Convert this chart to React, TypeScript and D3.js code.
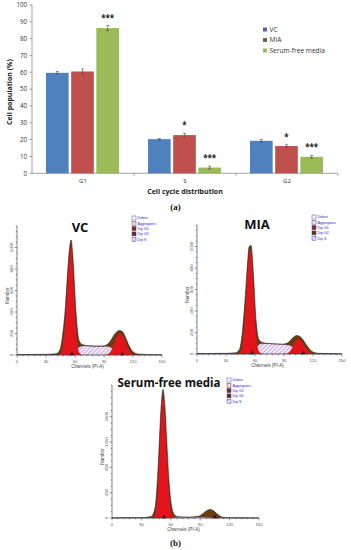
import * as d3 from 'd3';
import React from 'react';

// ---- panel (a): bar chart data ----
const phases = ['G1', 'S', 'G2'];
const groups = ['VC', 'MIA', 'Serum-free media'];
const vcMeans = [59.7, 20.3, 19.3];
const miaMeans = [60.5, 22.7, 16.2];
const sfmMeans = [86.3, 3.4, 9.8];
const vcErr = [0.8, 0.4, 0.8];
const miaErr = [1.5, 1.0, 0.8];
const sfmErr = [1.5, 0.8, 0.8];
const vcStars = ['', '', ''];
const miaStars = ['', '*', '*'];
const sfmStars = ['***', '***', '***'];
const barTicks = [0, 10, 20, 30, 40, 50, 60, 70, 80, 90, 100];

// ---- panel (b): DNA histograms (counts) ----
const channels = [0, 30, 40, 44, 47, 50, 52, 54, 56, 58, 61, 64, 67, 72, 80, 88, 93, 97, 100, 103, 106, 109, 112, 116, 120, 126, 150];

const vcTotal = [4, 6, 12, 40, 170, 440, 720, 960, 1070, 880, 400, 140, 100, 88, 84, 84, 95, 135, 180, 215, 228, 218, 170, 85, 30, 8, 2];
const vcG1 = [0, 0, 0, 5, 70, 320, 620, 900, 1020, 800, 260, 30, 2, 0, 0, 0, 0, 0, 0, 0, 0, 0, 0, 0, 0, 0, 0];
const vcG2 = [0, 0, 0, 0, 0, 0, 0, 0, 0, 0, 0, 0, 0, 0, 0, 0, 5, 35, 95, 160, 195, 185, 125, 40, 6, 0, 0];
const vcS = [0, 0, 0, 0, 0, 0, 0, 0, 0, 8, 45, 70, 82, 84, 80, 80, 78, 70, 58, 42, 28, 16, 8, 3, 0, 0, 0];

const miaTotal = [4, 6, 12, 45, 210, 540, 810, 1000, 1010, 790, 320, 135, 110, 100, 95, 92, 100, 130, 158, 172, 165, 140, 100, 50, 18, 6, 2];
const miaG1 = [0, 0, 0, 5, 90, 400, 720, 940, 960, 700, 200, 25, 2, 0, 0, 0, 0, 0, 0, 0, 0, 0, 0, 0, 0, 0, 0];
const miaG2 = [0, 0, 0, 0, 0, 0, 0, 0, 0, 0, 0, 0, 0, 0, 0, 0, 4, 35, 85, 128, 135, 105, 60, 18, 3, 0, 0];
const miaS = [0, 0, 0, 0, 0, 0, 0, 0, 0, 10, 55, 85, 95, 95, 90, 88, 84, 75, 60, 45, 28, 14, 7, 2, 0, 0, 0];

const sfmTotal = [3, 5, 25, 170, 780, 1720, 2030, 1760, 1170, 620, 170, 45, 22, 15, 15, 27, 72, 120, 134, 120, 82, 42, 16, 6, 3, 2, 1];
const sfmG1 = [0, 0, 0, 40, 560, 1560, 1940, 1650, 1020, 430, 50, 4, 0, 0, 0, 0, 0, 0, 0, 0, 0, 0, 0, 0, 0, 0, 0];
const sfmG2 = [0, 0, 0, 0, 0, 0, 0, 0, 0, 0, 0, 0, 0, 0, 0, 10, 55, 105, 120, 108, 70, 32, 10, 2, 0, 0, 0];
const sfmS = [0, 0, 0, 0, 0, 0, 0, 0, 0, 0, 5, 10, 12, 12, 12, 12, 10, 8, 5, 3, 0, 0, 0, 0, 0, 0, 0];

const legendItems = ['Debris', 'Aggregates', 'Dip G1', 'Dip G2', 'Dip S'];
const xTicksHist = [0, 30, 60, 90, 120, 150];

const barColors = ['#4f81bd', '#c0504d', '#9bbb59'];
const swatchColors = ['#5b63b0', '#7a5e48', '#9bbb59'];

const BarPanel = () => {
  const x0 = d3.scaleBand().domain(phases).range([32, 338]);
  const x1 = d3.scaleBand().domain(groups).range([0, 73]).paddingInner(0.1);
  const y = d3.scaleLinear().domain([0, 100]).range([173.3, 5]);
  const means = [vcMeans, miaMeans, sfmMeans];
  const errs = [vcErr, miaErr, sfmErr];
  const stars = [vcStars, miaStars, sfmStars];

  return (
    <g fontFamily="'Open Sans', sans-serif">
      {/* y axis */}
      <line x1={32} x2={32} y1={y(0)} y2={y(100)} stroke="#8a8a8a" strokeWidth={0.8} />
      <line x1={32} x2={338} y1={y(0)} y2={y(0)} stroke="#8a8a8a" strokeWidth={0.8} />
      {barTicks.map(t => (
        <g key={t}>
          <line x1={29.5} x2={32} y1={y(t)} y2={y(t)} stroke="#8a8a8a" strokeWidth={0.8} />
          <text x={27} y={y(t) + 2.2} fontSize={6.2} textAnchor="end" fill="#333">{t}</text>
        </g>
      ))}
      {phases.map(p => (
        <g key={p}>
          <line x1={x0(p)! + x0.bandwidth()} x2={x0(p)! + x0.bandwidth()} y1={y(0)} y2={y(0) + 2.5} stroke="#8a8a8a" strokeWidth={0.8} />
          <text x={x0(p)! + x0.bandwidth() / 2} y={y(0) + 9.5} fontSize={6} textAnchor="middle" fill="#333">{p}</text>
        </g>
      ))}
      {phases.map((p, i) => {
        const left = x0(p)! + (x0.bandwidth() - 73) / 2 - 0.5;
        return groups.map((g, k) => {
          const v = means[k][i];
          const e = errs[k][i];
          const bx = left + x1(g)!;
          const cx = bx + x1.bandwidth() / 2;
          return (
            <g key={p + g}>
              <rect x={bx} y={y(v)} width={x1.bandwidth()} height={y(0) - y(v)} fill={barColors[k]} />
              <line x1={cx} x2={cx} y1={y(v + e)} y2={y(v - e)} stroke="#444" strokeWidth={0.6} />
              <line x1={cx - 1.5} x2={cx + 1.5} y1={y(v + e)} y2={y(v + e)} stroke="#444" strokeWidth={0.6} />
              <line x1={cx - 1.5} x2={cx + 1.5} y1={y(v - e)} y2={y(v - e)} stroke="#444" strokeWidth={0.6} />
              {stars[k][i] && (
                <text x={cx} y={y(v + e) - 5} fontSize={8} fontWeight="bold" textAnchor="middle" fill="#222">{stars[k][i]}</text>
              )}
            </g>
          );
        });
      })}
      {/* axis titles */}
      <text transform={`translate(12,${y(50) + 3}) rotate(-90)`} fontSize={7} fontWeight="bold" textAnchor="middle" fill="#222">Cell population (%)</text>
      <text x={185} y={194} fontSize={7} fontWeight="bold" textAnchor="middle" fill="#222">Cell cycle distribution</text>
      {/* legend */}
      {groups.map((g, k) => (
        <g key={g}>
          <rect x={263} y={27.5 + k * 10.5} width={4} height={4} fill={swatchColors[k]} />
          <text x={269.5} y={31.8 + k * 10.5} fontSize={6.6} fill="#333">{g}</text>
        </g>
      ))}
    </g>
  );
};

type HistProps = {
  title: string; titleSize: number; titleX: number; titleY: number;
  xl: number; xr: number; yb: number; yt: number; ymax: number;
  yTicks: number[]; total: number[]; g1: number[]; g2: number[]; s: number[];
  g2Red: boolean; m1: number; m2: number; legX: number; legY: number;
};

const Histogram = (p: HistProps) => {
  const x = d3.scaleLinear().domain([0, 150]).range([p.xl, p.xr]);
  const y = d3.scaleLinear().domain([0, p.ymax]).range([p.yb, p.yt]);
  const pts = (arr: number[]) => channels.map((c, i) => [c, arr[i]] as [number, number]);
  const area = d3.area<[number, number]>().x(d => x(d[0])).y0(p.yb).y1(d => y(d[1])).curve(d3.curveMonotoneX);
  const line = d3.line<[number, number]>().x(d => x(d[0])).y(d => y(d[1])).curve(d3.curveMonotoneX);
  const minorX = d3.range(0, 151, 6);
  const minorY = d3.range(0, p.ymax + 1, p.yTicks[1] / 4);
  const brown = '#6e3b10';
  return (
    <g fontFamily="Arial, 'Liberation Sans', sans-serif">
      <path d={area(pts(p.total))!} fill={brown} />
      <path d={area(pts(p.s))!} fill={`url(#hatch)`} stroke="#7070c0" strokeWidth={0.3} />
      <path d={area(pts(p.g1))!} fill="#e3141b" />
      {p.g2Red && <path d={area(pts(p.g2))!} fill="#e3141b" />}
      <path d={line(pts(p.total))!} fill="none" stroke="#222" strokeWidth={0.6} />
      {/* axes */}
      <line x1={p.xl} x2={p.xl} y1={p.yb} y2={p.yt} stroke="#333" strokeWidth={0.6} />
      <line x1={p.xl} x2={p.xr} y1={p.yb} y2={p.yb} stroke="#333" strokeWidth={0.6} />
      {minorX.map(t => (
        <line key={'mx' + t} x1={x(t)} x2={x(t)} y1={p.yb} y2={p.yb + (t % 30 === 0 ? 2.5 : 1.3)} stroke="#333" strokeWidth={0.5} />
      ))}
      {minorY.map(t => (
        <line key={'my' + t} x1={p.xl} x2={p.xl - (p.yTicks.includes(t) ? 2.5 : 1.3)} y1={y(t)} y2={y(t)} stroke="#333" strokeWidth={0.5} />
      ))}
      {xTicksHist.map(t => (
        <text key={'tx' + t} x={x(t)} y={p.yb + 7.5} fontSize={4.2} textAnchor="middle" fill="#555">{t}</text>
      ))}
      {p.yTicks.map(t => (
        <text key={'ty' + t} transform={`translate(${p.xl - 4},${y(t)}) rotate(-90)`} fontSize={4.2} textAnchor="middle" fill="#555">{t}</text>
      ))}
      <text x={(p.xl + p.xr) / 2 - 2} y={p.yb + 12.5} fontSize={4.6} textAnchor="middle" fill="#444">Channels (PI-A)</text>
      <text transform={`translate(${p.xl - 8.5},${(p.yb + p.yt) / 2 + 5}) rotate(-90)`} fontSize={4.6} textAnchor="middle" fill="#444">Number</text>
      {/* mean markers */}
      {[p.m1, p.m2].map((m, i) => (
        <path key={'m' + i} d={`M${x(m) - 2},${p.yb + 0.2} L${x(m) + 2},${p.yb + 0.2} L${x(m)},${p.yb - 3.5} Z`} fill="#3a0a14" />
      ))}
      {/* title */}
      <text x={p.titleX} y={p.titleY} fontSize={p.titleSize} fontWeight="bold" textAnchor="middle" fill="#111" fontFamily="'Open Sans', sans-serif">{p.title}</text>
      {/* legend */}
      {legendItems.map((l, i) => {
        const ly = p.legY + i * 5.3;
        const fills = ['#ffffff', '#f6d6c6', '#8a2a10', '#5e3410', `url(#hatch)`];
        return (
          <g key={l}>
            <rect x={p.legX} y={ly} width={4} height={4} fill={fills[i]} stroke="#4a4aa8" strokeWidth={0.5} />
            <text x={p.legX + 5.5} y={ly + 3.4} fontSize={3.6} fill="#2a2ad0">{l}</text>
          </g>
        );
      })}
    </g>
  );
};

const App = () => {
  return (
    <svg width={351} height={550} style={{ position: 'absolute', left: 0, top: 0, background: '#fff' }}>
      <defs>
        <pattern id="hatch" width="3" height="3" patternUnits="userSpaceOnUse" patternTransform="rotate(45)">
          <rect width="3" height="3" fill="#fbeaf6" />
          <line x1="0" y1="0" x2="0" y2="3" stroke="#6a6ac8" strokeWidth="0.9" />
        </pattern>
      </defs>
      <rect width={351} height={550} fill="#fff" />
      <BarPanel />
      <text x={175.5} y={210} fontSize={9} fontWeight="bold" textAnchor="middle" fontFamily="'Liberation Serif', serif" fill="#111">(a)</text>
      <Histogram title="VC" titleSize={13} titleX={80} titleY={232}
        xl={17} xr={162} yb={355} yt={226} ymax={1200} yTicks={[0, 200, 400, 600, 800, 1000]}
        total={vcTotal} g1={vcG1} g2={vcG2} s={vcS} g2Red={true} m1={57} m2={109}
        legX={132} legY={216} />
      <Histogram title="MIA" titleSize={13} titleX={257} titleY={229}
        xl={197} xr={342} yb={354} yt={225} ymax={1200} yTicks={[0, 200, 400, 600, 800, 1000]}
        total={miaTotal} g1={miaG1} g2={miaG2} s={miaS} g2Red={true} m1={57} m2={110}
        legX={312} legY={215} />
      <Histogram title="Serum-free media" titleSize={11.5} titleX={169} titleY={387}
        xl={112} xr={259} yb={518} yt={385} ymax={2100} yTicks={[0, 400, 800, 1200, 1600]}
        total={sfmTotal} g1={sfmG1} g2={sfmG2} s={sfmS} g2Red={false} m1={53} m2={105}
        legX={227} legY={378} />
      <text x={175.5} y={546} fontSize={9} fontWeight="bold" textAnchor="middle" fontFamily="'Liberation Serif', serif" fill="#111">(b)</text>
    </svg>
  );
};

export default App;
